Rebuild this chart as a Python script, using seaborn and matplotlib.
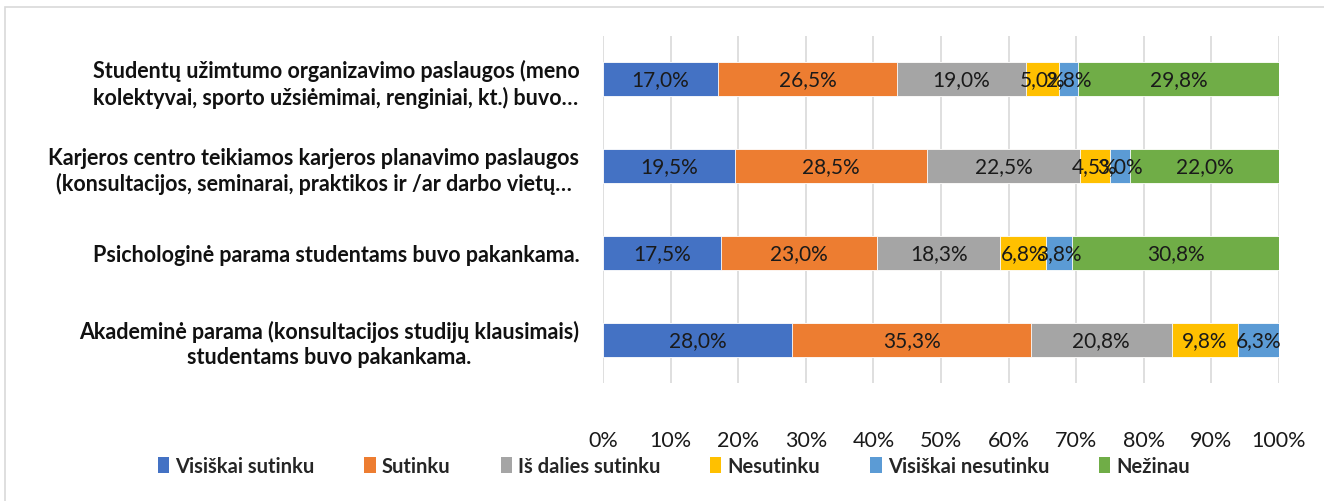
import matplotlib
matplotlib.use("Agg")
import matplotlib.pyplot as plt
import seaborn as sns
import pandas as pd
import numpy as np
from matplotlib.patches import Rectangle, Patch

categories = [
    "Studentų užimtumo organizavimo paslaugos (meno\nkolektyvai, sporto užsiėmimai, renginiai, kt.) buvo…",
    "Karjeros centro teikiamos karjeros planavimo paslaugos\n(konsultacijos, seminarai, praktikos ir /ar darbo vietų…",
    "Psichologinė parama studentams buvo pakankama.",
    "Akademinė parama (konsultacijos studijų klausimais)\nstudentams buvo pakankama.",
]
series_names = ["Visiškai sutinku", "Sutinku", "Iš dalies sutinku",
                "Nesutinku", "Visiškai nesutinku", "Nežinau"]
visiskai_sutinku = [17.0, 19.5, 17.5, 28.0]
sutinku = [26.5, 28.5, 23.0, 35.3]
is_dalies = [19.0, 22.5, 18.3, 20.8]
nesutinku = [5.0, 4.5, 6.8, 9.8]
visiskai_nesutinku = [2.8, 3.0, 3.8, 6.3]
nezinau = [29.8, 22.0, 30.8, 0.0]
colors = ["#4472C4", "#ED7D31", "#A5A5A5", "#FFC000", "#5B9BD5", "#70AD47"]
xticks = [0, 10, 20, 30, 40, 50, 60, 70, 80, 90, 100]

sns.set_theme(style="white")
plt.rcParams["font.family"] = ["Lato", "DejaVu Sans"]

vals = np.array([visiskai_sutinku, sutinku, is_dalies, nesutinku,
                 visiskai_nesutinku, nezinau])
cum = np.cumsum(vals, axis=0)

fig = plt.figure(figsize=(13.24, 5.02), dpi=100)
ax = fig.add_axes([603/1324, 1-384/502, 676/1324, 347/502])

for i in range(len(series_names) - 1, -1, -1):
    df = pd.DataFrame({"cat": categories, "val": cum[i]})
    sns.barplot(data=df, x="val", y="cat", orient="h", color=colors[i],
                saturation=1, width=0.39, ax=ax, linewidth=0.6,
                edgecolor="white", zorder=2)

for i in range(len(series_names)):
    for j in range(len(categories)):
        v = vals[i, j]
        if v <= 0:
            continue
        center = cum[i, j] - v / 2
        ax.text(center, j, f"{v:.1f}%".replace(".", ","), ha="center",
                va="center", fontsize=15, color="#1a1a1a", zorder=5)

ax.set_xlim(0, 100)
ax.set_ylim(3.5, -0.5)
ax.set_xticks(xticks)
ax.set_xticklabels([f"{t}%" for t in xticks], fontsize=15.5, color="#1a1a1a")
ax.tick_params(axis="x", pad=34, length=0)
ax.tick_params(axis="y", length=0, pad=17)
ax.set_yticks(range(len(categories)))
ax.set_yticklabels(categories, fontsize=15.5, fontweight="bold",
                   color="#111111", multialignment="center",
                   linespacing=1.25)
ax.set_xlabel("")
ax.set_ylabel("")
ax.grid(axis="x", color="#d9d9d9", linewidth=1.2, zorder=0)
ax.set_axisbelow(True)
for s in ax.spines.values():
    s.set_visible(False)

handles = [Patch(facecolor=c, edgecolor="none") for c in colors]
leg = fig.legend(handles, series_names, loc="center", ncol=6,
                 bbox_to_anchor=(0.509, 1-467/502), frameon=False,
                 prop={"size": 14.5, "weight": "bold"}, handlelength=0.55,
                 handleheight=0.8, handletextpad=0.3, columnspacing=2.5)

fig.patches.append(Rectangle((5/1324, -0.1), 1.2, 1-8/502+0.1,
                             transform=fig.transFigure, fill=False,
                             edgecolor="#d9d9d9", linewidth=1.2))

fig.savefig("out.png", dpi=100, facecolor="white")
